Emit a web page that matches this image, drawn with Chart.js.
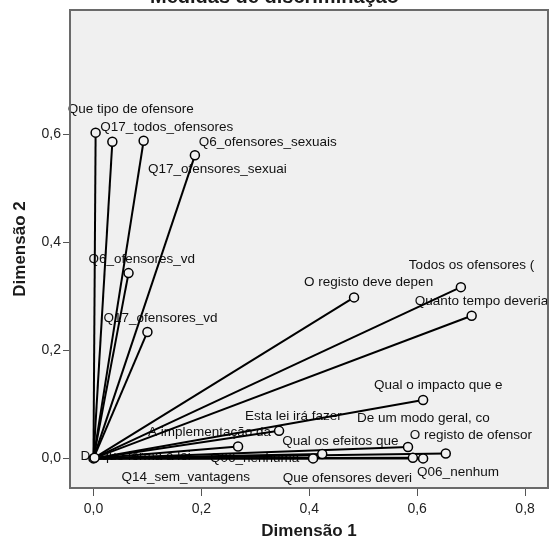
<!DOCTYPE html>
<html>
<head>
<meta charset="utf-8">
<script src="https://cdn.jsdelivr.net/npm/chart.js@4"></script>
<style>
  html, body { margin: 0; padding: 0; background: #fff; }
  #wrap { width: 549px; height: 546px; }
</style>
</head>
<body>
<div id="wrap"><canvas id="chart" width="549" height="546"></canvas></div>
<script>
// items and their discrimination measures
const itemLabels = [
  "Que tipo de ofensore", "Q17_todos_ofensores", "Q6_ofensores_sexuais", "Q17_ofensores_sexuai",
  "Q6_ofensores_vd", "Q17_ofensores_vd", "O registo deve depen", "Todos os ofensores (",
  "Quanto tempo deveria", "Qual o impacto que e", "Esta lei irá fazer", "A implementação da",
  "De um modo geral, co", "O registo de ofensor", "Qual os efeitos que", "Q06_nenhuma",
  "Que ofensores deveri", "Q06_nenhum", "De que forma a lei", "Q14_sem_vantagens"
];
const dim1 = [0.004, 0.035, 0.093, 0.188, 0.065, 0.100, 0.483, 0.681, 0.701, 0.611,
              0.344, 0.268, 0.583, 0.653, 0.424, 0.407, 0.592, 0.611, 0.000, 0.002];
const dim2 = [0.603, 0.586, 0.588, 0.561, 0.343, 0.234, 0.298, 0.317, 0.264, 0.108,
              0.051, 0.022, 0.021, 0.009, 0.008, 0.000, 0.001, 0.000, 0.000, 0.001];
const xTicks = [0, 0.2, 0.4, 0.6, 0.8];
const yTicks = [0, 0.2, 0.4, 0.6];

// where each label sits, in pixels from its point (left edge, middle)
const labelDx = [-28, -12, 55, -47, -40, -44, -50, -52, -57, -49, -34, -90, -51, -36, -40, -103, -130, -6, -13, 27];
const labelDy = [-23, -15, 2, 14, -14, -14, -15, -22, -14, -15, -15, -14, -29, -18, -13, 0, 20, 14, -2, 19];

const FONT = "'Liberation Sans', Arial, sans-serif";
const PLOT_BG = "#f0f0f0";

const lineSets = itemLabels.map((name, i) => ({
  label: name,
  data: [{x: 0, y: 0}, {x: dim1[i], y: dim2[i]}],
  showLine: true,
  borderColor: "#000",
  borderWidth: 2,
  pointRadius: 0,
  order: 1
}));

const pointSet = {
  label: "pontos",
  data: itemLabels.map((n, i) => ({x: dim1[i], y: dim2[i]})),
  showLine: false,
  pointRadius: 4.5,
  pointBorderWidth: 1.5,
  pointBorderColor: "#000",
  pointBackgroundColor: PLOT_BG,
  order: 0
};

const fmt = v => v.toFixed(1).replace(".", ",");

const spssLook = {
  id: "spssLook",
  beforeDraw(chart) {
    const {ctx, chartArea: a} = chart;
    ctx.save();
    ctx.fillStyle = PLOT_BG;
    ctx.fillRect(a.left, a.top, a.right - a.left, a.bottom - a.top);
    ctx.restore();
  },
  beforeDatasetsDraw(chart) {
    const {ctx, scales} = chart;
    ctx.save();
    ctx.font = "13.5px " + FONT;
    ctx.fillStyle = "#111";
    ctx.textAlign = "left";
    ctx.textBaseline = "middle";
    itemLabels.forEach((name, i) => {
      const px = scales.x.getPixelForValue(dim1[i]);
      const py = scales.y.getPixelForValue(dim2[i]);
      ctx.fillText(name, px + labelDx[i], py + labelDy[i]);
    });
    ctx.restore();
  },
  afterDraw(chart) {
    const {ctx, chartArea: a} = chart;
    ctx.save();
    ctx.strokeStyle = "#6a6a6a";
    ctx.lineWidth = 2;
    ctx.strokeRect(a.left, a.top, a.right - a.left, a.bottom - a.top);

    ctx.fillStyle = "#1a1a1a";
    ctx.textAlign = "center";
    ctx.font = "bold 20px " + FONT;
    ctx.textBaseline = "alphabetic";
    ctx.fillText("Medidas de discriminação", chart.width / 2, 3);

    ctx.font = "bold 17px " + FONT;
    ctx.textBaseline = "middle";
    ctx.fillText("Dimensão 1", (a.left + a.right) / 2, 531);
    ctx.translate(20, (a.top + a.bottom) / 2);
    ctx.rotate(-Math.PI / 2);
    ctx.fillText("Dimensão 2", 0, 0);
    ctx.restore();
  }
};

new Chart(document.getElementById("chart"), {
  type: "scatter",
  data: { datasets: [...lineSets, pointSet] },
  options: {
    responsive: false,
    animation: false,
    devicePixelRatio: 1,
    layout: { autoPadding: false, padding: { top: 10, right: 1, left: 0, bottom: 0 } },
    plugins: { legend: { display: false }, tooltip: { enabled: false } },
    scales: {
      x: {
        type: "linear",
        min: -0.0435, max: 0.8425,
        afterFit: s => { s.height = 58; s.paddingLeft = 0; s.paddingRight = 0; },
        afterBuildTicks: s => { s.ticks = xTicks.map(v => ({value: v})); },
        grid: { drawOnChartArea: false, drawTicks: true, tickLength: 8, color: "#555" },
        border: { display: false },
        ticks: { callback: fmt, padding: 5, color: "#222", font: { family: FONT, size: 14 }, maxRotation: 0 }
      },
      y: {
        type: "linear",
        min: -0.0548, max: 0.830,
        afterFit: s => { s.width = 70; s.paddingTop = 0; s.paddingBottom = 0; },
        afterBuildTicks: s => { s.ticks = yTicks.map(v => ({value: v})); },
        grid: { drawOnChartArea: false, drawTicks: true, tickLength: 7, color: "#555" },
        border: { display: false },
        ticks: { callback: fmt, padding: 2, color: "#222", font: { family: FONT, size: 14 } }
      }
    }
  },
  plugins: [spssLook]
});
</script>
</body>
</html>
